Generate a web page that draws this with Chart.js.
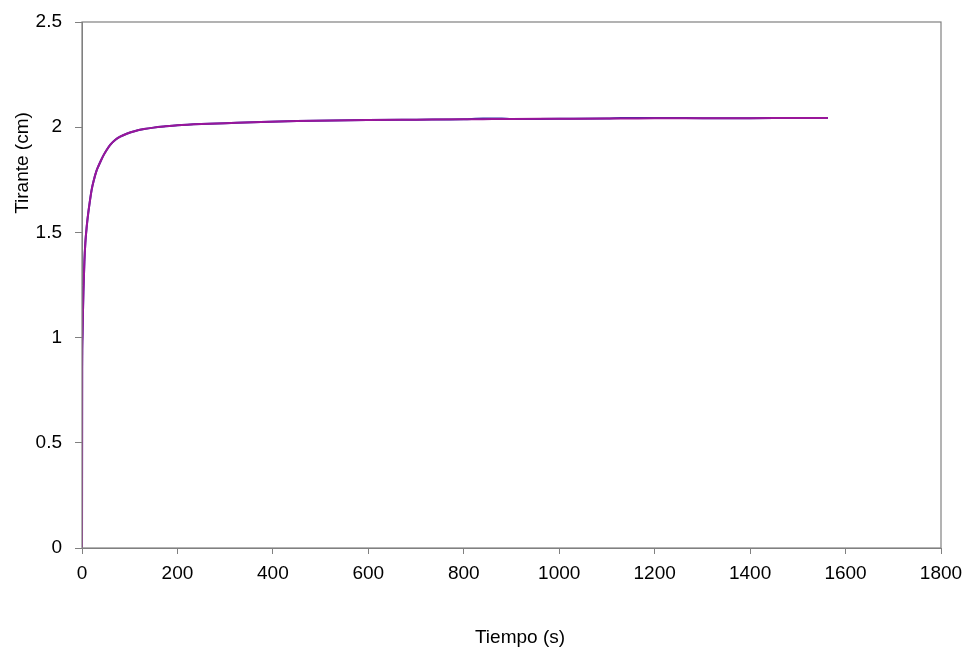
<!DOCTYPE html>
<html>
<head>
<meta charset="utf-8">
<script src="https://cdn.jsdelivr.net/npm/chart.js@4.4.1/dist/chart.umd.min.js"></script>
<style>
html,body{margin:0;padding:0;background:#fff;}
#wrap{width:966px;height:652px;position:relative;}
</style>
</head>
<body>
<div id="wrap"><canvas id="c" width="966" height="652"></canvas></div>
<script>
// Time (s)
const tiempo = [0, 0.3, 1, 2, 3, 5, 7, 10, 13, 16, 20, 25, 30, 35, 40, 45, 52, 60, 70, 80, 95, 110, 130, 150, 175, 200, 250, 300, 375, 450, 525, 600, 700, 800, 840, 880, 900, 1000, 1100, 1130, 1200, 1230, 1300, 1400, 1500, 1563];
// Tirante (cm) - purple series
const tirante = [0, 0.85, 1.0, 1.12, 1.22, 1.36, 1.45, 1.53, 1.59, 1.64, 1.70, 1.75, 1.79, 1.818, 1.843, 1.866, 1.893, 1.918, 1.940, 1.955, 1.970, 1.981, 1.991, 1.998, 2.004, 2.009, 2.015, 2.019, 2.025, 2.029, 2.032, 2.034, 2.036, 2.038, 2.038, 2.039, 2.039, 2.040, 2.041, 2.041, 2.042, 2.042, 2.043, 2.043, 2.044, 2.044];
// Blue series (mostly hidden under the purple one)
const tiranteAzul = [0, 0.85, 1.0, 1.12, 1.22, 1.36, 1.45, 1.53, 1.59, 1.64, 1.70, 1.75, 1.79, 1.818, 1.843, 1.866, 1.893, 1.918, 1.940, 1.955, 1.970, 1.981, 1.991, 1.998, 2.004, 2.009, 2.015, 2.019, 2.025, 2.029, 2.032, 2.034, 2.036, 2.038, 2.041, 2.041, 2.039, 2.040, 2.041, 2.044, 2.044, 2.044, 2.043, 2.043, 2.044, 2.044];
const xTicks = [0, 200, 400, 600, 800, 1000, 1200, 1400, 1600, 1800];
const yTicks = [0, 0.5, 1, 1.5, 2, 2.5];
const xTitle = 'Tiempo (s)';
const yTitle = 'Tirante (cm)';

const pts = (xs, ys) => xs.map((x, i) => ({x: x, y: ys[i]}));
const FONT = "'Liberation Sans', Arial, sans-serif";

const frame = {
  id: 'frame',
  afterDraw(chart) {
    const {ctx, chartArea: a} = chart;
    ctx.save();
    ctx.strokeStyle = '#808080';
    ctx.lineWidth = 1.2;
    ctx.strokeRect(a.left, a.top, a.right - a.left, a.bottom - a.top);
    ctx.fillStyle = '#000';
    ctx.font = '19px ' + FONT;
    ctx.textAlign = 'center';
    ctx.textBaseline = 'middle';
    ctx.fillText(xTitle, 520, 638);
    ctx.translate(23, 163);
    ctx.rotate(-Math.PI / 2);
    ctx.fillText(yTitle, 0, 0);
    ctx.restore();
  }
};

new Chart(document.getElementById('c'), {
  type: 'scatter',
  data: {
    datasets: [
      {data: pts(tiempo, tirante), showLine: true, borderColor: '#99169A', borderWidth: 2, pointRadius: 0, cubicInterpolationMode: 'monotone', order: 1},
      {data: pts(tiempo, tiranteAzul), showLine: true, borderColor: '#3333AA', borderWidth: 2, pointRadius: 0, cubicInterpolationMode: 'monotone', order: 2}
    ]
  },
  options: {
    responsive: false,
    animation: false,
    layout: {padding: {top: 22, right: 25, left: 0, bottom: 0}},
    plugins: {legend: {display: false}, tooltip: {enabled: false}},
    scales: {
      x: {
        type: 'linear', min: 0, max: 1800,
        afterBuildTicks: s => { s.ticks = xTicks.map(v => ({value: v})); },
        afterFit: s => { s.height = 104; s.paddingLeft = 0; s.paddingRight = 0; },
        ticks: {color: '#000', font: {family: FONT, size: 19}, padding: 8, maxRotation: 0, callback: v => String(v)},
        grid: {drawOnChartArea: false, drawTicks: true, tickLength: 6, color: '#808080'},
        border: {color: '#808080', width: 1}
      },
      y: {
        type: 'linear', min: 0, max: 2.5,
        afterBuildTicks: s => { s.ticks = yTicks.map(v => ({value: v})); },
        afterFit: s => { s.width = 82; s.paddingTop = 0; s.paddingBottom = 0; },
        ticks: {color: '#000', font: {family: FONT, size: 19}, padding: 13, callback: v => String(v)},
        grid: {drawOnChartArea: false, drawTicks: true, tickLength: 7, color: '#808080'},
        border: {color: '#808080', width: 1}
      }
    }
  },
  plugins: [frame]
});
</script>
</body>
</html>
